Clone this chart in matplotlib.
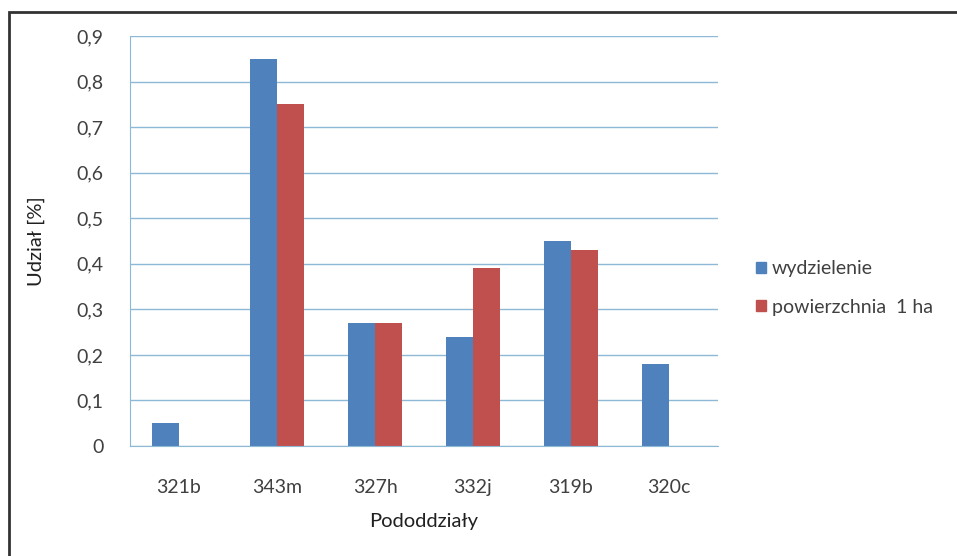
"""Udzial wydzielen i powierzchni 1 ha w pododdzialach"""

import numpy as np
import matplotlib.pyplot as plt
from matplotlib.patches import Rectangle, Patch
from matplotlib.ticker import FuncFormatter

#-- data
categories = ['321b', '343m', '327h', '332j', '319b', '320c']
wydzielenie = [0.05, 0.85, 0.27, 0.24, 0.45, 0.18]
powierzchnia = [0.0, 0.75, 0.27, 0.39, 0.43, 0.0]
series_names = ['wydzielenie', 'powierzchnia  1 ha']
yticks = [0, 0.1, 0.2, 0.3, 0.4, 0.5, 0.6, 0.7, 0.8, 0.9]

BLUE = '#4F81BD'
RED = '#C0504D'
GRID = '#8DB8D6'
TEXT = '#404040'

plt.rcParams['font.family'] = ['Lato', 'DejaVu Sans']

#-------------------------------------------------------------------------------

fig = plt.figure(figsize=(9.57, 5.56), dpi=100)
ax = fig.add_axes([130 / 957, 1 - 446 / 556, 588 / 957, 410 / 556])

x = np.arange(len(categories))
width = 0.28
ax.bar(x - width / 2, wydzielenie, width, color=BLUE, label=series_names[0])
ax.bar(x + width / 2, powierzchnia, width, color=RED, label=series_names[1])

ax.set_xlim(-0.5, len(categories) - 0.5)
ax.set_ylim(0, 0.9)
ax.set_yticks(yticks)
ax.yaxis.set_major_formatter(FuncFormatter(
    lambda v, p: '0' if v == 0 else ('%.1f' % v).replace('.', ',')))
ax.set_xticks(x)
ax.set_xticklabels(categories)

ax.grid(axis='y', color=GRID, linewidth=1)
ax.set_axisbelow(True)
for side in ['top', 'right']:
    ax.spines[side].set_visible(False)
for side in ['left', 'bottom']:
    ax.spines[side].set_color(GRID)
ax.tick_params(axis='both', length=0, labelsize=14, colors=TEXT)
ax.tick_params(axis='y', pad=19)
ax.tick_params(axis='x', pad=24)

ax.set_ylabel('Udział [%]', fontsize=14.5, color='#202020', labelpad=23)
ax.set_xlabel('Pododdziały', fontsize=14.5, color='#202020', labelpad=12)

handles = [Patch(color=BLUE), Patch(color=RED)]
fig.legend(handles, series_names, loc='center left',
           bbox_to_anchor=(756 / 957, 1 - 288 / 556), frameon=False,
           fontsize=14, handlelength=0.5, handleheight=0.5,
           handletextpad=0.3, labelspacing=1.1, labelcolor=TEXT,
           borderpad=0, borderaxespad=0)

#-- outer frame, cut off at the right and bottom edges
fig.patches.append(Rectangle((9 / 957, -0.05), 1.0, 1 - 12 / 556 + 0.05,
                             transform=fig.transFigure, fill=False,
                             edgecolor='#333333', linewidth=2))

fig.savefig('out.png', dpi=100)
